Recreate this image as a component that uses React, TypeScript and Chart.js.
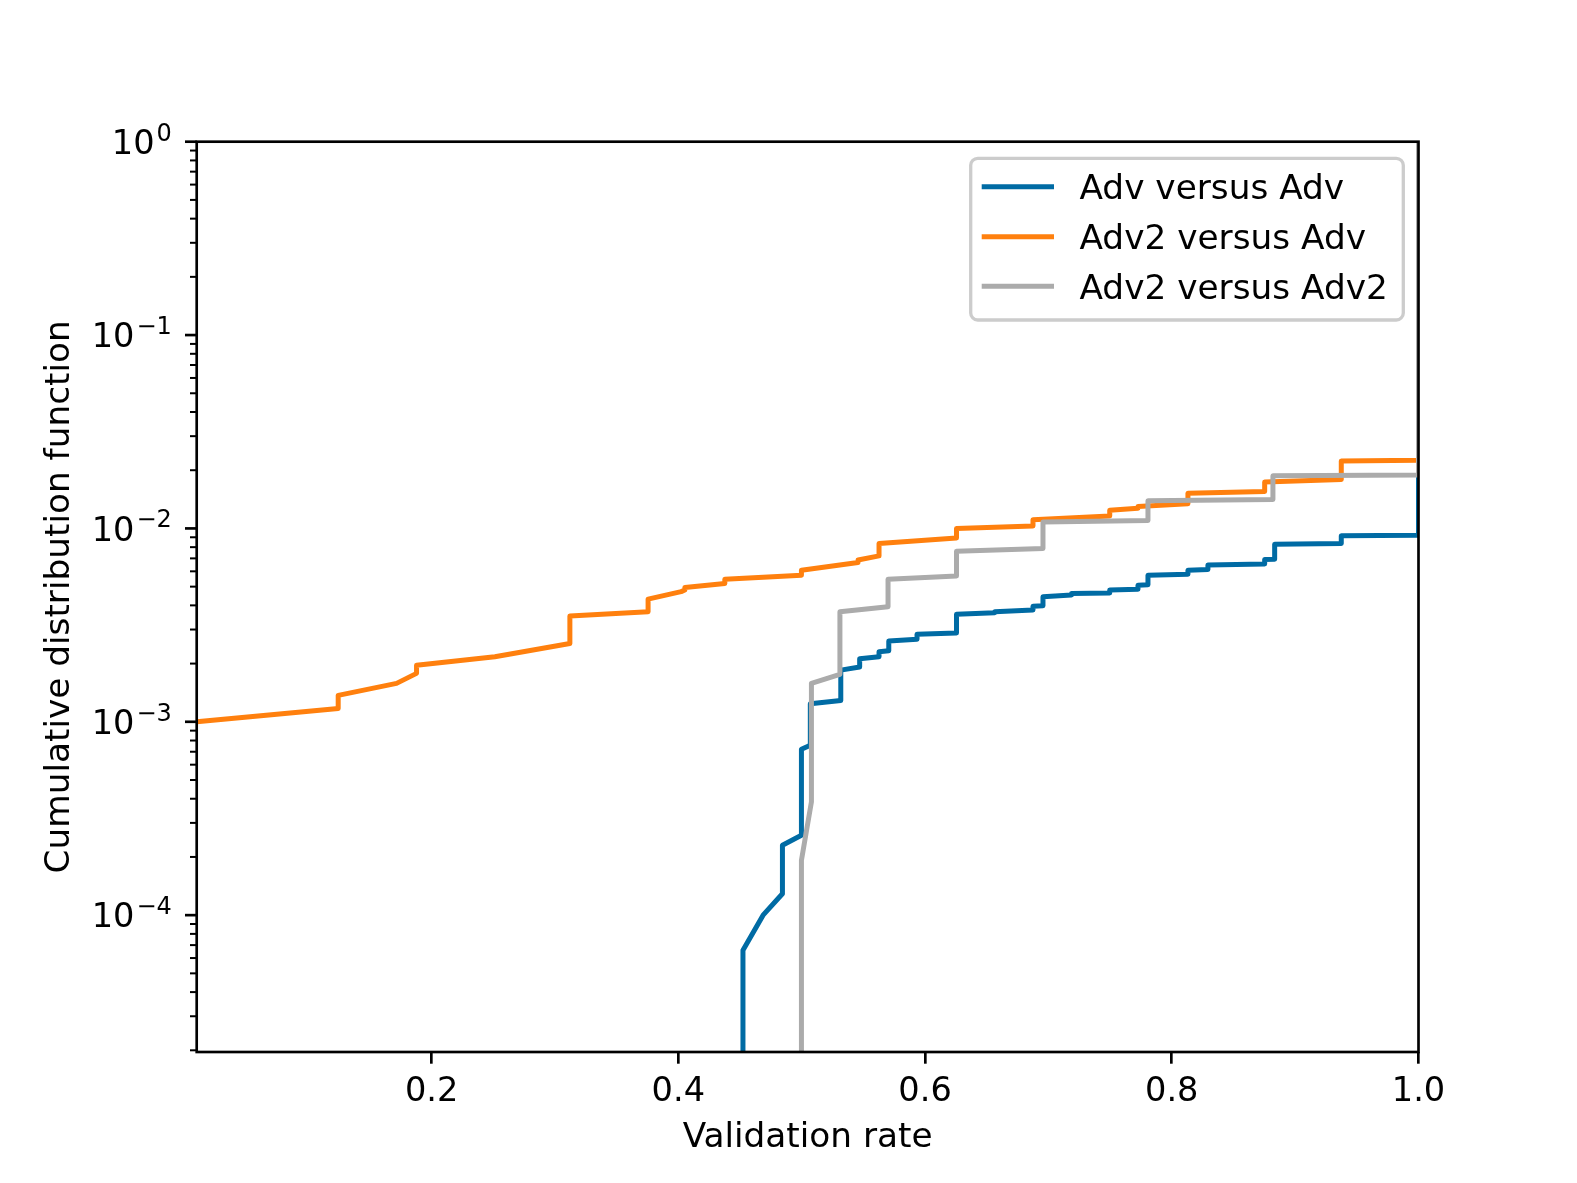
import React, { useEffect, useRef } from 'react';
import { Chart, registerables } from 'chart.js';

Chart.register(...registerables);

const FONT = '"DejaVu Sans", "Liberation Sans", sans-serif';

// axis settings
const xMin = 0.0096;
const xMax = 1.0;
const yMin = 1.96e-5;
const yMax = 1.0;
const xTickValues = [0.2, 0.4, 0.6, 0.8, 1.0];
const yMajorExponents = [-4, -3, -2, -1, 0];

const seriesLabels = ['Adv versus Adv', 'Adv2 versus Adv', 'Adv2 versus Adv2'];
const seriesColors = ['#006BA4', '#FF800E', '#ABABAB'];

// Adv versus Adv
const advAdvX = [
  0.4524, 0.4524, 0.4687, 0.4844, 0.4844, 0.4998, 0.4998, 0.5052, 0.507, 0.507,
  0.5317, 0.5317, 0.547, 0.547, 0.5627, 0.5627, 0.5706, 0.5706, 0.5935, 0.5935,
  0.6255, 0.6255, 0.6565, 0.6565, 0.6875, 0.6875, 0.6956, 0.6956, 0.7187, 0.7187,
  0.7497, 0.7497, 0.7726, 0.7726, 0.7807, 0.7807, 0.8131, 0.8131, 0.8293, 0.8293,
  0.8753, 0.8753, 0.8834, 0.8834, 0.9374, 0.9374, 1.0, 1.0,
];
const advAdvY = [
  1e-5, 6.58e-5, 1.0e-4, 1.29e-4, 2.3e-4, 2.59e-4, 7.21e-4, 7.48e-4, 7.55e-4, 1.24e-3,
  1.29e-3, 1.85e-3, 1.92e-3, 2.12e-3, 2.17e-3, 2.3e-3, 2.33e-3, 2.62e-3, 2.67e-3, 2.84e-3,
  2.88e-3, 3.6e-3, 3.66e-3, 3.71e-3, 3.78e-3, 3.96e-3, 3.98e-3, 4.43e-3, 4.52e-3, 4.61e-3,
  4.64e-3, 4.8e-3, 4.85e-3, 5.09e-3, 5.12e-3, 5.73e-3, 5.8e-3, 6.08e-3, 6.13e-3, 6.46e-3,
  6.54e-3, 6.91e-3, 6.93e-3, 8.29e-3, 8.36e-3, 9.16e-3, 9.23e-3, 1.0,
];

// Adv2 versus Adv
const adv2AdvX = [
  0.0096, 0.1243, 0.1243, 0.1716, 0.1878, 0.1878, 0.2513, 0.3121, 0.3121, 0.3755,
  0.3755, 0.4023, 0.4053, 0.4053, 0.4377, 0.4377, 0.4998, 0.4998, 0.5457, 0.5457,
  0.5627, 0.5627, 0.6255, 0.6255, 0.6875, 0.6875, 0.7497, 0.7497, 0.7726, 0.7726,
  0.8131, 0.8131, 0.8753, 0.8753, 0.9374, 0.9374, 1.0, 1.0,
];
const adv2AdvY = [
  1.0e-3, 1.17e-3, 1.37e-3, 1.58e-3, 1.78e-3, 1.96e-3, 2.17e-3, 2.54e-3, 3.52e-3, 3.71e-3,
  4.31e-3, 4.71e-3, 4.8e-3, 4.95e-3, 5.19e-3, 5.46e-3, 5.73e-3, 6.08e-3, 6.67e-3, 6.86e-3,
  7.21e-3, 8.36e-3, 8.93e-3, 1.0e-2, 1.03e-2, 1.11e-2, 1.16e-2, 1.24e-2, 1.27e-2, 1.3e-2,
  1.34e-2, 1.52e-2, 1.55e-2, 1.74e-2, 1.79e-2, 2.23e-2, 2.25e-2, 1.0,
];

// Adv2 versus Adv2
const adv2Adv2X = [
  0.4998, 0.4998, 0.5079, 0.5079, 0.531, 0.531, 0.57, 0.57, 0.6255, 0.6255,
  0.6956, 0.6956, 0.7807, 0.7807, 0.882, 0.882, 1.0, 1.0,
];
const adv2Adv2Y = [
  1e-5, 1.92e-4, 3.85e-4, 1.58e-3, 1.76e-3, 3.71e-3, 3.93e-3, 5.46e-3, 5.67e-3, 7.63e-3,
  7.87e-3, 1.08e-2, 1.1e-2, 1.39e-2, 1.41e-2, 1.87e-2, 1.89e-2, 1.0,
];

const seriesX = [advAdvX, adv2AdvX, adv2Adv2X];
const seriesY = [advAdvY, adv2AdvY, adv2Adv2Y];

const LINE_W = 5;
const TEXT_SIZE = 34.3;

const decorPlugin = {
  id: 'decor',
  afterDraw(chart: any) {
    const ctx = chart.ctx as CanvasRenderingContext2D;
    const { left, right, top, bottom } = chart.chartArea;
    const ys = chart.scales.y;
    ctx.save();
    // y ticks (major + minor)
    ctx.strokeStyle = '#000';
    for (let k = -5; k <= 0; k++) {
      for (let m = 1; m <= 9; m++) {
        const v = m * Math.pow(10, k);
        if (v < ys.min * 0.999 || v > ys.max * 1.001) continue;
        const py = ys.getPixelForValue(v);
        const major = m === 1;
        ctx.lineWidth = major ? 2.67 : 2;
        ctx.beginPath();
        ctx.moveTo(left - (major ? 11.7 : 6.7), py);
        ctx.lineTo(left, py);
        ctx.stroke();
      }
    }
    // y tick labels 10^k
    ctx.fillStyle = '#000';
    ctx.textBaseline = 'alphabetic';
    for (const e of yMajorExponents) {
      const py = ys.getPixelForValue(Math.pow(10, e));
      const expStr = e === 0 ? '0' : '\u2212' + String(-e);
      ctx.font = `24px ${FONT}`;
      const ew = ctx.measureText(expStr).width;
      const xr = left - 11.7 - 11.7 - 1.5;
      ctx.textAlign = 'left';
      ctx.fillText(expStr, xr - ew, py - 1);
      ctx.font = `33.6px ${FONT}`;
      ctx.textAlign = 'right';
      ctx.fillText('10', xr - ew - 2, py + 12.3);
    }
    // spines
    ctx.lineWidth = 2.67;
    ctx.strokeStyle = '#000';
    ctx.strokeRect(left, top, right - left, bottom - top);

    // legend
    const lx = 970.7, ly = 158.3, lw = 432.6, lh = 161.7;
    ctx.beginPath();
    if ((ctx as any).roundRect) (ctx as any).roundRect(lx, ly, lw, lh, 7);
    else ctx.rect(lx, ly, lw, lh);
    ctx.fillStyle = 'rgba(255,255,255,0.8)';
    ctx.fill();
    ctx.lineWidth = 3.3;
    ctx.strokeStyle = '#cccccc';
    ctx.stroke();
    const rows = [186.7, 236.7, 286.3];
    ctx.font = `${TEXT_SIZE}px ${FONT}`;
    ctx.textAlign = 'left';
    ctx.textBaseline = 'alphabetic';
    rows.forEach((ry, i) => {
      ctx.strokeStyle = seriesColors[i];
      ctx.lineWidth = LINE_W;
      ctx.lineCap = 'butt';
      ctx.beginPath();
      ctx.moveTo(981.7, ry);
      ctx.lineTo(1054, ry);
      ctx.stroke();
      ctx.fillStyle = '#000';
      ctx.fillText(seriesLabels[i], 1079.5, ry + 12.6);
    });
    ctx.restore();
  },
};

export default function App() {
  const canvasRef = useRef<HTMLCanvasElement | null>(null);

  useEffect(() => {
    document.body.style.margin = '0';
    const canvas = canvasRef.current;
    if (!canvas) return;
    Chart.defaults.font.family = FONT;
    Chart.defaults.color = '#000';
    const order = [3, 2, 1];
    const datasets = seriesLabels.map((label, i) => ({
      label,
      data: seriesX[i].map((x, j) => ({ x, y: seriesY[i][j] })),
      borderColor: seriesColors[i],
      backgroundColor: seriesColors[i],
      borderWidth: LINE_W,
      pointRadius: 0,
      pointHoverRadius: 0,
      tension: 0,
      fill: false,
      clip: 0,
      borderJoinStyle: 'round' as const,
      borderCapStyle: 'butt' as const,
      order: order[i],
    }));

    const chart = new Chart(canvas, {
      type: 'line',
      data: { datasets },
      options: {
        animation: false,
        responsive: false,
        events: [],
        layout: { padding: { left: 0, top: 141.7, right: 158.5, bottom: 0 } },
        plugins: {
          legend: { display: false },
          tooltip: { enabled: false },
        },
        scales: {
          x: {
            type: 'linear',
            min: xMin,
            max: xMax,
            afterBuildTicks: (s: any) => {
              s.ticks = xTickValues.map((v) => ({ value: v }));
            },
            afterFit: (s: any) => {
              s.height = 131;
            },
            ticks: {
              autoSkip: false,
              maxRotation: 0,
              padding: 8.6,
              color: '#000',
              font: { size: 33.6, family: FONT },
              callback: (v: any) => Number(v).toFixed(1),
            },
            grid: {
              display: true,
              drawOnChartArea: false,
              drawTicks: true,
              tickLength: 11.7,
              tickWidth: 2.67,
              tickColor: '#000',
              color: '#000',
              lineWidth: 2.67,
            },
            border: { display: false },
            title: {
              display: true,
              text: 'Validation rate',
              color: '#000',
              font: { size: TEXT_SIZE, family: FONT },
              padding: { top: 0, bottom: 24.5 },
            },
          },
          y: {
            type: 'logarithmic',
            min: yMin,
            max: yMax,
            afterFit: (s: any) => {
              s.width = 196.7;
            },
            ticks: { display: false },
            grid: { display: false },
            border: { display: false },
            title: {
              display: true,
              text: 'Cumulative distribution function',
              color: '#000',
              font: { size: TEXT_SIZE, family: FONT },
              padding: { top: 39.5, bottom: 0 },
            },
          },
        },
      },
      plugins: [decorPlugin],
    } as any);

    return () => {
      chart.destroy();
    };
  }, []);

  return (
    <div style={{ position: 'absolute', left: 0, top: 0, width: 1577, height: 1183 }}>
      <canvas ref={canvasRef} width={1577} height={1183} style={{ display: 'block' }} />
    </div>
  );
}
